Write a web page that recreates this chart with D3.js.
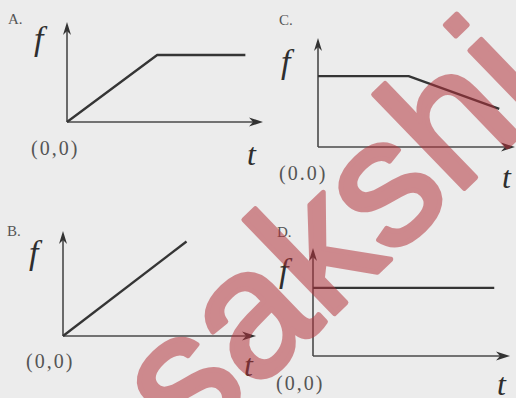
<!DOCTYPE html>
<html>
<head>
<meta charset="utf-8">
<script src="https://cdn.jsdelivr.net/npm/d3@7"></script>
<style>
  html, body { margin: 0; padding: 0; background: #ececec; }
  svg { display: block; }
</style>
</head>
<body>
<div id="chart"></div>
<script>
// four small f-t sketches, values are on a 0..10 scale for each axis
const panelNames = ["A.", "B.", "C.", "D."];
const originLabels = ["(0,0)", "(0,0)", "(0.0)", "(0,0)"];
const tA = [0, 4.6, 9.1], fA = [0, 6.7, 6.7];
const tB = [0, 6.4], fB = [0, 9.0];
const tC = [0, 4.6, 9.2], fC = [6.5, 6.5, 3.5];
const tD = [0, 9.2], fD = [6.3, 6.3];
const watermark = "sakshi";

const W = 516, H = 398;

const svg = d3
  .select("#chart")
  .append("svg")
  .attr("width", W)
  .attr("height", H);

svg.append("rect").attr("width", W).attr("height", H).attr("fill", "#ececec");

// layout of each panel: origin of axes, axis lengths, label spots
const panels = [
  { name: panelNames[0], org: [67, 122], xLen: 196, yLen: 100, t: tA, f: fA,
    nameAt: [8, 24], fAt: [34, 50], oAt: [31, 155], tAt: [247, 165], oLabel: originLabels[0] },
  { name: panelNames[1], org: [63, 336], xLen: 193, yLen: 105, t: tB, f: fB,
    nameAt: [7, 236], fAt: [29, 264], oAt: [26, 368], tAt: [244, 376], oLabel: originLabels[1] },
  { name: panelNames[2], org: [318, 147], xLen: 197, yLen: 109, t: tC, f: fC,
    nameAt: [279, 25], fAt: [281, 73], oAt: [279, 180], tAt: [502, 188], oLabel: originLabels[2] },
  { name: panelNames[3], org: [313, 356], xLen: 197, yLen: 108, t: tD, f: fD,
    nameAt: [277, 237], fAt: [279, 282], oAt: [276, 390], tAt: [497, 395], oLabel: originLabels[3] },
];

const ink = "#353535";

panels.forEach((p) => {
  const g = svg.append("g").attr("transform", `translate(${p.org[0]},${p.org[1]})`);

  const x = d3.scaleLinear().domain([0, 10]).range([0, p.xLen]);
  const y = d3.scaleLinear().domain([0, 10]).range([0, -p.yLen]);

  // axes
  g.append("line")
    .attr("x1", x(0)).attr("y1", y(0))
    .attr("x2", x(10) - 8).attr("y2", y(0))
    .attr("stroke", "#4a4a4a").attr("stroke-width", 1.6);
  g.append("line")
    .attr("x1", x(0)).attr("y1", y(0))
    .attr("x2", x(0)).attr("y2", y(10) + 8)
    .attr("stroke", "#4a4a4a").attr("stroke-width", 1.6);

  // arrow heads
  g.append("path")
    .attr("d", `M${x(10)},${y(0)} L${x(10) - 14},${y(0) - 4.5} L${x(10) - 10},${y(0)} L${x(10) - 14},${y(0) + 4.5} Z`)
    .attr("fill", "#333");
  g.append("path")
    .attr("d", `M${x(0)},${y(10)} L${x(0) - 4},${y(10) + 13} L${x(0)},${y(10) + 9} L${x(0) + 4},${y(10) + 13} Z`)
    .attr("fill", "#333");

  // the curve
  const pts = p.t.map((tv, i) => [tv, p.f[i]]);
  g.append("path")
    .datum(pts)
    .attr("d", d3.line().x((d) => x(d[0])).y((d) => y(d[1])))
    .attr("fill", "none")
    .attr("stroke", ink)
    .attr("stroke-width", 2.3)
    .attr("stroke-linejoin", "round");

  // labels
  svg.append("text")
    .attr("x", p.nameAt[0]).attr("y", p.nameAt[1])
    .attr("font-family", "Liberation Serif").attr("font-size", 15)
    .attr("fill", "#555")
    .text(p.name);
  svg.append("text")
    .attr("x", p.fAt[0]).attr("y", p.fAt[1])
    .attr("font-family", "Liberation Serif").attr("font-style", "italic")
    .attr("font-size", 34).attr("fill", "#2e2e2e")
    .text("f");
  svg.append("text")
    .attr("x", p.oAt[0]).attr("y", p.oAt[1])
    .attr("font-family", "Liberation Serif").attr("font-size", 20)
    .attr("letter-spacing", 2)
    .attr("fill", "#555")
    .text(p.oLabel);
  svg.append("text")
    .attr("x", p.tAt[0]).attr("y", p.tAt[1])
    .attr("font-family", "Liberation Serif").attr("font-style", "italic")
    .attr("font-size", 32).attr("fill", "#2e2e2e")
    .text("t");
});

// watermark over everything, slightly heavier strokes, one opacity for the group
svg.append("g")
  .attr("opacity", 0.53)
  .append("text")
  .attr("transform", "translate(189,454) rotate(-44)")
  .attr("font-family", "Liberation Sans")
  .attr("font-size", 180)
  .attr("fill", "#b3323b")
  .attr("stroke", "#b3323b")
  .attr("stroke-width", 5)
  .attr("stroke-linejoin", "round")
  .text(watermark);
</script>
</body>
</html>
